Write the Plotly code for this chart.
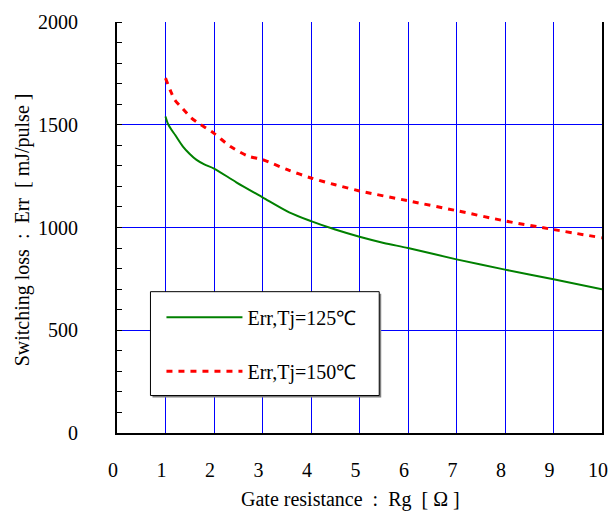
import plotly.graph_objects as go

rg_125 = [1.0, 1.05, 1.12, 1.2, 1.36, 1.5, 1.64, 1.8, 2.0, 2.46, 3.0, 3.55, 4.0, 4.5, 5.0, 5.5, 6.0, 7.0, 8.0, 9.0, 10.0]
err_125 = [1540, 1505, 1477, 1450, 1394, 1358, 1329, 1307, 1287, 1220, 1147, 1074, 1031, 990, 955, 925, 900, 845, 795, 748, 700]

rg_150 = [1.0, 1.1, 1.19, 1.36, 1.53, 1.7, 2.0, 2.34, 2.7, 3.0, 3.55, 4.0, 4.5, 5.0, 6.0, 7.0, 8.0, 9.0, 10.0]
err_150 = [1727, 1667, 1622, 1577, 1534, 1505, 1458, 1394, 1348, 1330, 1278, 1241, 1208, 1178, 1130, 1082, 1032, 990, 950]

x_ticks = list(range(0, 11))
y_ticks = [0, 500, 1000, 1500, 2000]

FONT = "Liberation Serif"

# plot area in pixels (for converting legend box placement)
L, R, T, B = 116.5, 602.0, 22.0, 433.5
W, H = R - L, B - T
def px(x):
    return (x - L) / W
def py(y):
    return (B - y) / H

fig = go.Figure()
fig.add_trace(go.Scatter(x=rg_125, y=err_125, mode="lines", name="Err,Tj=125℃",
                         line=dict(color="#008000", width=2, shape="spline", smoothing=0.8),
                         legendgroup="a"))
fig.add_trace(go.Scatter(x=rg_150, y=err_150, mode="lines", name="Err,Tj=150℃",
                         line=dict(color="#ff0000", width=3, dash="6px,6px", shape="spline", smoothing=0.8),
                         legendgroup="b"))

shapes = [
    # legend box shadow
    dict(type="rect", xref="paper", yref="paper", x0=px(152), x1=px(381), y0=py(294), y1=py(398),
         fillcolor="#808080", line=dict(width=0), layer="above"),
    # legend box
    dict(type="rect", xref="paper", yref="paper", x0=px(150), x1=px(379), y0=py(292), y1=py(396),
         fillcolor="white", line=dict(color="black", width=1), layer="above"),
]

annotations = [
    dict(text="Gate resistance  :  Rg  [ Ω ]", xref="paper", yref="paper",
         x=px(350), y=py(500), showarrow=False, font=dict(size=20, family=FONT),
         xanchor="center", yanchor="middle"),
    dict(text="Switching loss  :  Err  [ mJ/pulse ]", xref="paper", yref="paper",
         x=px(22), y=py(230), showarrow=False, font=dict(size=20, family=FONT),
         textangle=-90, xanchor="center", yanchor="middle"),
]

fig.update_layout(
    width=609, height=515,
    margin=dict(l=L, r=609 - R, t=T, b=515 - B),
    paper_bgcolor="white", plot_bgcolor="white",
    font=dict(family=FONT, size=20, color="black"),
    showlegend=True,
    shapes=shapes,
    annotations=annotations,
    legend=dict(x=px(161), y=py(298), xanchor="left", yanchor="top",
                bgcolor="rgba(0,0,0,0)", borderwidth=0,
                font=dict(family=FONT, size=20), itemwidth=76,
                tracegroupgap=25, traceorder="grouped"),
    xaxis=dict(range=[0, 10], tickvals=x_ticks, showgrid=True, gridcolor="#0000ff", gridwidth=1,
               showline=True, linecolor="black", linewidth=2, ticks="", zeroline=False,
               ticklabelstandoff=18, ticklabelshift=-4, automargin=False, ticklabeloverflow="allow"),
    yaxis=dict(range=[0, 2000], tickvals=y_ticks, showgrid=True, gridcolor="#0000ff", gridwidth=1,
               showline=True, linecolor="black", linewidth=2, mirror=True, ticks="", zeroline=False,
               ticklabelstandoff=33, automargin=False, ticklabeloverflow="allow",
               minor=dict(dtick=100, ticks="inside", ticklen=5, tickcolor="black", showgrid=False)),
)

fig.write_html("out.html")
